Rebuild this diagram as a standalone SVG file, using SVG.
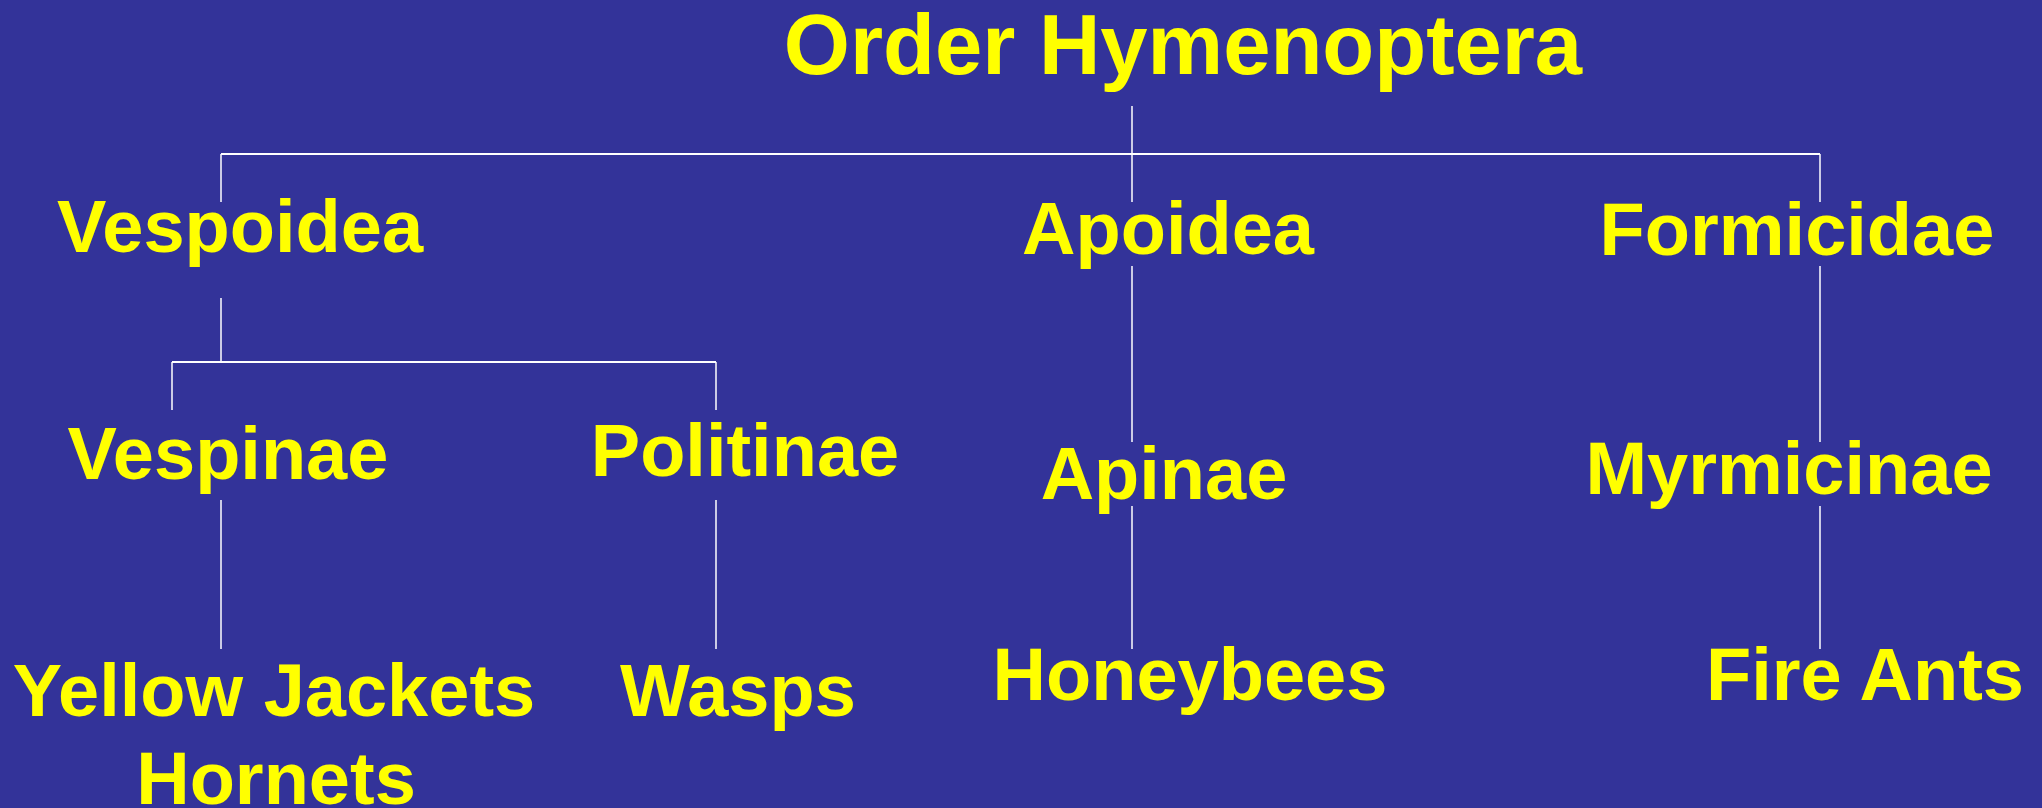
<svg xmlns="http://www.w3.org/2000/svg" width="2042" height="808" viewBox="0 0 2042 808">
<style>
.t{font-family:"Liberation Sans",Arial,sans-serif;font-weight:bold;fill:#ffff00;text-anchor:middle;font-size:74px}
.title{font-size:85px}
.c line{stroke:#ffffff;stroke-width:1.5;fill:none}
.c line.h{stroke-width:2}
</style>
<rect width="2042" height="808" fill="#333399"/>
<g class="c" id="connectors">
<line x1="1132" y1="106" x2="1132" y2="202"/>
<line class="h" x1="221" y1="154" x2="1820" y2="154"/>
<line x1="221" y1="154" x2="221" y2="202"/>
<line x1="1820" y1="154" x2="1820" y2="202"/>
<line x1="221" y1="298" x2="221" y2="362"/>
<line class="h" x1="172" y1="362" x2="716" y2="362"/>
<line x1="172" y1="362" x2="172" y2="410"/>
<line x1="716" y1="362" x2="716" y2="410"/>
<line x1="221" y1="500" x2="221" y2="649"/>
<line x1="716" y1="500" x2="716" y2="649"/>
<line x1="1132" y1="266" x2="1132" y2="442"/>
<line x1="1132" y1="506" x2="1132" y2="649"/>
<line x1="1820" y1="266" x2="1820" y2="442"/>
<line x1="1820" y1="506" x2="1820" y2="649"/>
</g>
<g id="order"><text class="t title" x="1183" y="74">Order Hymenoptera</text></g>
<g id="vespoidea"><text class="t" x="240" y="252">Vespoidea</text></g>
<g id="apoidea"><text class="t" x="1168" y="254">Apoidea</text></g>
<g id="formicidae"><text class="t" x="1797" y="255">Formicidae</text></g>
<g id="vespinae"><text class="t" x="228" y="479">Vespinae</text></g>
<g id="politinae"><text class="t" x="745" y="476">Politinae</text></g>
<g id="apinae"><text class="t" x="1164" y="499">Apinae</text></g>
<g id="myrmicinae"><text class="t" x="1789" y="494">Myrmicinae</text></g>
<g id="yellowjackets"><text class="t" x="274" y="716">Yellow Jackets</text><text class="t" x="276" y="804">Hornets</text></g>
<g id="wasps"><text class="t" x="738" y="716">Wasps</text></g>
<g id="honeybees"><text class="t" x="1190" y="700">Honeybees</text></g>
<g id="fireants"><text class="t" x="1865" y="700">Fire Ants</text></g>
</svg>
